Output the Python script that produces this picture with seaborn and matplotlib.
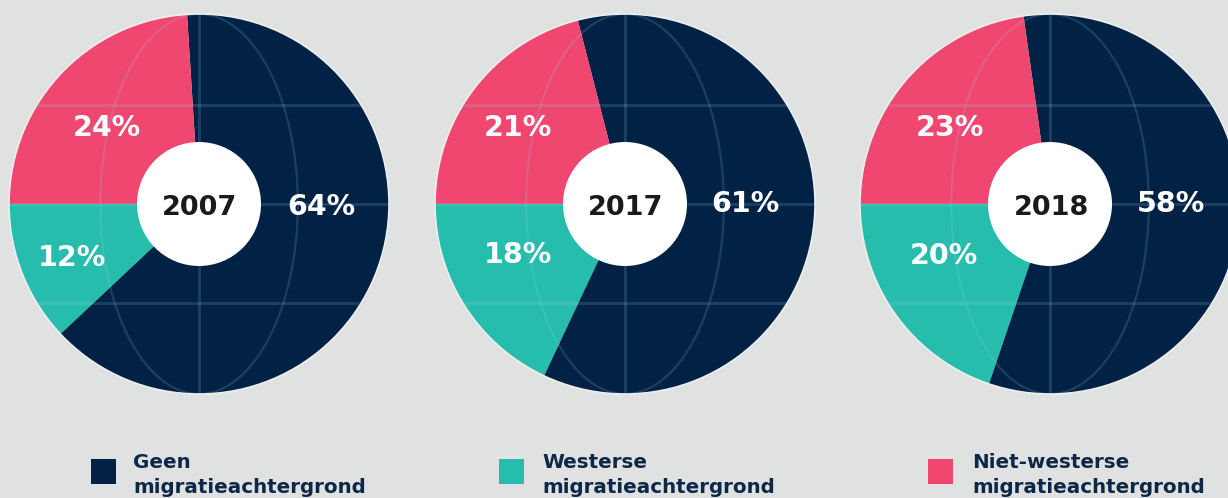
import numpy as np
import matplotlib
matplotlib.use("Agg")
import matplotlib.pyplot as plt
import seaborn as sns
from matplotlib.patches import Circle, Ellipse, Rectangle

# Data
years = ["2007", "2017", "2018"]
geen = [64, 61, 58]
westers = [12, 18, 20]
niet_westers = [24, 21, 23]
legend_labels = ["Geen\nmigratieachtergrond",
                 "Westerse\nmigratieachtergrond",
                 "Niet-westerse\nmigratieachtergrond"]

navy, teal, pink = "#012244", "#26BDAC", "#EF4770"
bg = "#E0E2E1"

sns.set_theme(style="white")
plt.rcParams['font.family'] = ['DejaVu Sans']

W, H = 1228, 498
fig = plt.figure(figsize=(W / 100, H / 100), dpi=100, facecolor=bg)
ax = fig.add_axes([0, 0, 1, 1])
ax.set_xlim(0, W)
ax.set_ylim(0, H)
ax.set_facecolor(bg)
ax.axis("off")

# layout (pixels)
centers_x = [199, 625, 1050]
cy = H - 204
R = 190
r_in = 62
# label offsets (dx, baseline dy) per pie: westers, geen, niet-westers
label_off = [
    [(-127, -62), (122, -11), (-92, 68)],
    [(-107, -59), (120, -8), (-107, 68)],
    [(-106, -60), (121, -8), (-100, 68)],
]
grid_col = "#9fd0f2"

for i, cx in enumerate(centers_x):
    vals = [westers[i], geen[i], niet_westers[i]]
    wedges, _ = ax.pie(vals, colors=[teal, navy, pink], startangle=180,
                       counterclock=True, center=(cx, cy), radius=R,
                       wedgeprops=dict(linewidth=0))
    ax.set_xlim(0, W)
    ax.set_ylim(0, H)
    ax.set_aspect("equal")

    # globe grid, clipped to the pie
    clip = Circle((cx, cy), R, transform=ax.transData)
    lines = []
    lines += ax.plot([cx, cx], [cy - R, cy + R], color=grid_col, alpha=0.17, lw=2.2)
    for dy in (-0.52 * R, 0, 0.52 * R):
        lines += ax.plot([cx - R, cx + R], [cy + dy, cy + dy], color=grid_col,
                         alpha=0.17, lw=2.2)
    ell = Ellipse((cx, cy), 2 * 0.52 * R, 2 * R, fill=False, edgecolor=grid_col,
                  alpha=0.17, lw=1.6)
    ax.add_patch(ell)
    lines.append(ell)
    for ln in lines:
        ln.set_clip_path(clip)

    ax.add_patch(Circle((cx, cy), R, fill=False, edgecolor="#eeeeee", lw=1.2))
    ax.add_patch(Circle((cx, cy), r_in, facecolor="white", edgecolor="none", zorder=5))
    ax.text(cx + 1, cy - 11, years[i], ha="center", va="baseline", fontsize=19.5,
            fontweight="bold", color="#1a1a1a", zorder=6)

    for v, (dx, dy) in zip(vals, label_off[i]):
        ax.text(cx + dx, cy + dy, f"{v}%", ha="center", va="baseline",
                fontsize=20.5, fontweight="bold", color="white", zorder=6)

# legend
sq_x = [91, 499, 928]
txt_x = [133, 542, 972]
for col, sx, tx, lab in zip([navy, teal, pink], sq_x, txt_x, legend_labels):
    ax.add_patch(Rectangle((sx, H - 484), 25, 25, facecolor=col, edgecolor="none"))
    l1, l2 = lab.split("\n")
    ax.text(tx, H - 468, l1, ha="left", va="baseline", fontsize=14.3,
            fontweight="bold", color="#0d2747")
    ax.text(tx, H - 493, l2, ha="left", va="baseline", fontsize=14.3,
            fontweight="bold", color="#0d2747")

fig.savefig("out.png", dpi=100, facecolor=bg)
